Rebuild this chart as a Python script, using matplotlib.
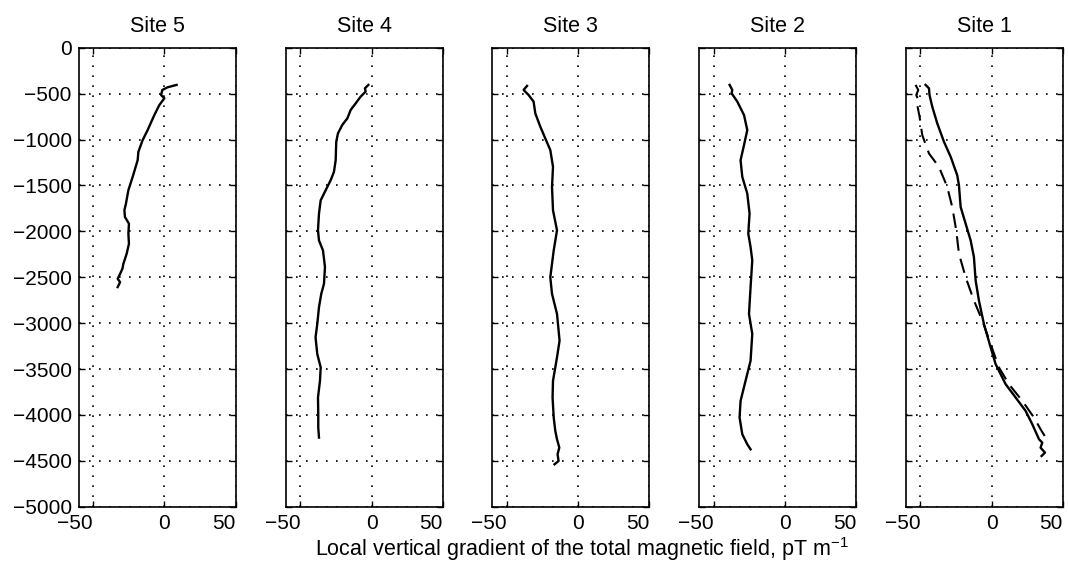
import numpy as np
import matplotlib.pyplot as plt

plt.rcParams['font.family'] = ['Liberation Sans', 'DejaVu Sans']
plt.rcParams['mathtext.default'] = 'regular'

# Site titles (left to right)
titles = ['Site 5', 'Site 4', 'Site 3', 'Site 2', 'Site 1']

# Site 5
site5_grad = [8.6, 2.3, -1.4, -2.3, 0.0, -3.5, -7.0, -11.7, -15.2, -18.2, -18.7, -22.2,
              -25.2, -26.9, -28.0, -27.6, -24.8, -25.2, -24.8, -26.4, -28.7, -29.4,
              -31.0, -32.7, -31.0, -32.7]
site5_depth = [-405, -431, -460, -515, -551, -624, -733, -897, -1006, -1134, -1225, -1407,
               -1552, -1698, -1771, -1844, -1917, -2026, -2135, -2244, -2354, -2408,
               -2463, -2517, -2554, -2608]

# Site 4
site4_grad = [-2.3, -4.7, -4.2, -7.7, -11.2, -14.7, -17.0, -20.6, -23.6, -24.8, -25.2,
              -26.4, -28.7, -32.2, -35.7, -36.9, -37.6, -36.9, -34.1, -32.7, -33.4, -35.3,
              -36.9, -38.1, -39.3, -38.1, -35.7, -36.2, -37.6, -37.4, -37.4, -36.9]
site4_depth = [-405, -442, -478, -533, -606, -678, -769, -842, -933, -1024, -1225,
               -1352, -1443, -1552, -1662, -1807, -1989, -2099, -2208, -2390, -2572, -2681,
               -2827, -3009, -3155, -3337, -3482, -3628, -3810, -3992, -4138, -4247]

# Site 3
site3_grad = [-35.7, -38.1, -34.6, -31.1, -29.9, -26.4, -22.9, -19.4, -17.5, -18.2, -17.5,
              -14.7, -17.0, -19.4, -18.2, -14.7, -12.9, -14.7, -17.5, -17.8, -17.0, -15.9,
              -14.7, -13.1, -14.3, -13.6, -16.4]
site3_depth = [-416, -460, -515, -587, -715, -860, -988, -1115, -1298, -1516, -1771,
               -1989, -2208, -2500, -2681, -2900, -3191, -3373, -3628, -3810, -4029, -4174,
               -4265, -4356, -4429, -4502, -4538]

# Site 2
site2_grad = [-38.8, -36.9, -37.4, -33.4, -28.7, -26.4, -28.7, -31.1, -29.9, -26.4, -24.8,
              -25.7, -24.1, -22.9, -24.1, -25.2, -22.9, -24.1, -27.6, -31.1, -31.8, -29.9,
              -26.4, -24.1]
site2_depth = [-405, -460, -496, -587, -733, -897, -1061, -1225, -1407, -1589, -1807,
               -2026, -2171, -2317, -2609, -2900, -3118, -3410, -3628, -3847, -4029, -4211,
               -4320, -4375]

# Site 1, solid curve
site1_grad = [-46.3, -43.9, -43.5, -41.6, -38.1, -33.4, -28.7, -24.1, -22.9, -21.7, -18.2,
              -14.7, -12.4, -11.2, -8.9, -5.4, -0.7, 2.8, 5.1, 9.8, 16.8, 23.8, 28.5, 33.2,
              35.5, 34.3, 37.4, 35.0]
site1_depth = [-405, -442, -515, -642, -824, -1024, -1188, -1389, -1498, -1735, -1917,
               -2099, -2281, -2536, -2754, -3009, -3264, -3446, -3519, -3665, -3810, -3956,
               -4102, -4265, -4302, -4357, -4411, -4448]

# Site 1, dashed curve
site1b_grad = [-53.3, -51.4, -52.8, -51.4, -52.1, -50.5, -48.6, -43.9, -36.9, -31.1, -27.6,
               -24.8, -22.9, -18.2, -12.4, -6.5, -0.7, 5.1, 12.1, 21.5, 29.7, 34.3, 37.9, 40.2]
site1b_depth = [-405, -460, -515, -569, -624, -751, -952, -1152, -1298, -1516, -1735,
                -1989, -2244, -2500, -2754, -2973, -3228, -3482, -3665, -3847, -4029, -4156,
                -4247, -4283]

grads = [site5_grad, site4_grad, site3_grad, site2_grad, site1_grad]
depths = [site5_depth, site4_depth, site3_depth, site2_depth, site1_depth]

fig = plt.figure(figsize=(10.68, 5.62), dpi=100)
lefts = [0.0737, 0.2678, 0.461, 0.6548, 0.8483]

for i in range(5):
    ax = fig.add_axes([lefts[i], 0.0984, 0.147, 0.8167])
    ax.plot(grads[i], depths[i], color='k', lw=1.7)
    if i == 4:
        ax.plot(site1b_grad, site1b_depth, color='k', lw=1.5, dashes=(7, 4))
    ax.set_xlim(-60, 50)
    ax.set_ylim(-5000, 0)
    ax.set_xticks([-50, 0, 50])
    ax.set_yticks(np.arange(-5000, 1, 500))
    ax.grid(True, color='k', linestyle=(0, (1, 5)), linewidth=1.2)
    ax.tick_params(direction='in', top=True, right=True, length=4, width=1,
                   labelsize=15, pad=5)
    # outer labels sit toward the inside, as in the original
    xl = ax.get_xticklabels()
    xl[0].set_ha('right')
    xl[2].set_ha('right')
    if i > 0:
        ax.set_yticklabels([])
    for s in ax.spines.values():
        s.set_linewidth(1.2)
    ax.set_title(titles[i], fontsize=15.5, pad=11)

fig.text(0.545, 0.011, 'Local vertical gradient of the total magnetic field, pT m$^{-1}$',
         ha='center', va='baseline', fontsize=15.5)

fig.savefig('out.png', dpi=100)
